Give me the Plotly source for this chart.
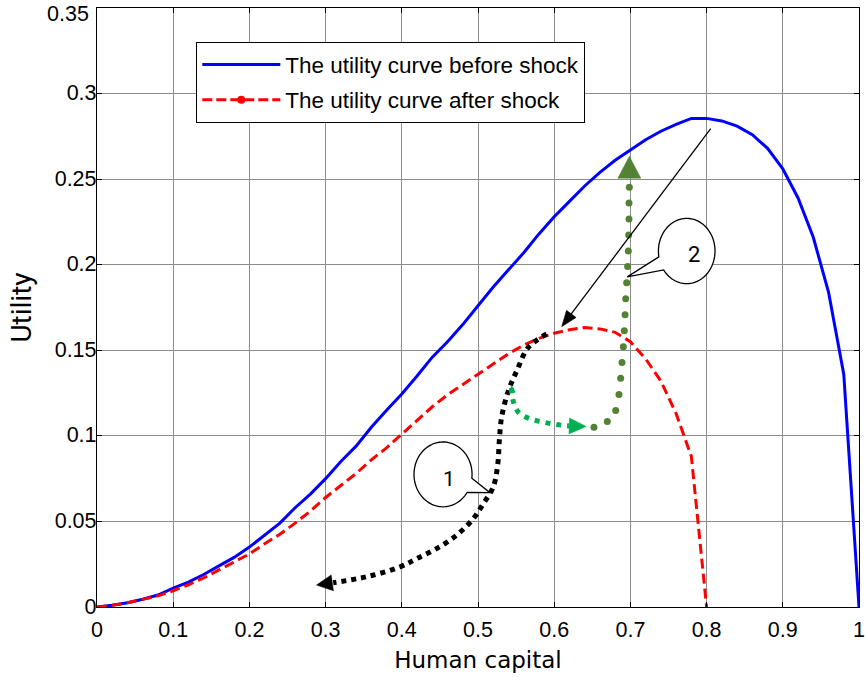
import numpy as np
import plotly.graph_objects as go

# ---- data -------------------------------------------------------------
capital_before = [0.00, 0.02, 0.04, 0.06, 0.08, 0.10, 0.12, 0.14, 0.16, 0.18,
                  0.20, 0.22, 0.24, 0.26, 0.28, 0.30, 0.32, 0.34, 0.36, 0.38,
                  0.40, 0.42, 0.44, 0.46, 0.48, 0.50, 0.52, 0.54, 0.56, 0.58,
                  0.60, 0.62, 0.64, 0.66, 0.68, 0.70, 0.72, 0.74, 0.76, 0.78,
                  0.80, 0.82, 0.84, 0.86, 0.88, 0.90, 0.92, 0.94, 0.96, 0.98,
                  1.00]
utility_before = [0.0, 0.001, 0.0025, 0.0045, 0.007, 0.011, 0.0145, 0.019, 0.024, 0.029,
                  0.035, 0.042, 0.049, 0.058, 0.066, 0.075, 0.085, 0.094, 0.105, 0.115,
                  0.1245, 0.135, 0.146, 0.155, 0.165, 0.176, 0.187, 0.197, 0.207, 0.218,
                  0.228, 0.237, 0.246, 0.254, 0.261, 0.267, 0.273, 0.278, 0.282, 0.2855,
                  0.2855, 0.284, 0.281, 0.276, 0.268, 0.256, 0.239, 0.216, 0.184, 0.136,
                  0.0]

capital_after = [0.00, 0.02, 0.04, 0.06, 0.08, 0.10, 0.12, 0.14, 0.16, 0.18,
                 0.20, 0.22, 0.24, 0.26, 0.28, 0.30, 0.32, 0.34, 0.36, 0.38,
                 0.40, 0.42, 0.44, 0.46, 0.48, 0.50, 0.52, 0.54, 0.56, 0.58,
                 0.60, 0.62, 0.64, 0.66, 0.68, 0.70, 0.72, 0.74, 0.76, 0.78,
                 0.80]
utility_after = [0.0, 0.001, 0.0025, 0.0045, 0.0065, 0.0095, 0.013, 0.017, 0.0215, 0.026,
                 0.031, 0.037, 0.0425, 0.049, 0.056, 0.064, 0.071, 0.078, 0.086, 0.093,
                 0.101, 0.109, 0.117, 0.124, 0.130, 0.136, 0.142, 0.148, 0.153, 0.157,
                 0.160, 0.162, 0.1633, 0.1625, 0.1605, 0.155, 0.145, 0.132, 0.113, 0.088,
                 0.0]

# path 1: falling back down after the shock (black dotted)
fall_x = [0.590, 0.566, 0.551, 0.540, 0.531, 0.528, 0.526, 0.520, 0.507, 0.494,
          0.472, 0.446, 0.420, 0.398, 0.354, 0.310]
fall_y = [0.1595, 0.1517, 0.1381, 0.1265, 0.1109, 0.0973, 0.0837, 0.0701, 0.0604, 0.0517,
          0.0420, 0.0342, 0.0284, 0.0235, 0.0177, 0.0142]
fall_tip = (0.288, 0.0128)

# path 2: recovery, first leg (green squares)
recover_x = [0.544, 0.546, 0.553, 0.568, 0.586, 0.603, 0.620]
recover_y = [0.1280, 0.1206, 0.1138, 0.1100, 0.1080, 0.1066, 0.1058]
recover_tip = (0.642, 0.1055)

# path 2: recovery, second leg (olive dots)
climb_x = [0.6522, 0.6697, 0.6807, 0.6850, 0.6872, 0.6890, 0.6907, 0.6920, 0.6930,
           0.6938, 0.6951, 0.6964, 0.6973, 0.6977, 0.6982, 0.6982, 0.6986]
climb_y = [0.1051, 0.1084, 0.1148, 0.1241, 0.1336, 0.1428, 0.1521, 0.1614, 0.1707,
           0.1801, 0.1894, 0.1989, 0.2080, 0.2174, 0.2267, 0.2360, 0.2453]
climb_tip = (0.6986, 0.2634)

# pointer from the old optimum to the new one
pointer_start = (0.8054, 0.2795)
pointer_tip = (0.6098, 0.1638)

x_ticks = [0, 0.1, 0.2, 0.3, 0.4, 0.5, 0.6, 0.7, 0.8, 0.9, 1]
x_labels = ["0", "0.1", "0.2", "0.3", "0.4", "0.5", "0.6", "0.7", "0.8", "0.9", "1"]
y_ticks = [0, 0.05, 0.1, 0.15, 0.2, 0.25, 0.3, 0.35]
y_labels = ["0", "0.05", "0.1", "0.15", "0.2", "0.25", "0.3", "0.35"]

# ---- geometry helpers -------------------------------------------------
W, H = 865, 677
M_L, M_R, M_T, M_B = 97, 6, 8, 70
PX_X = (W - M_L - M_R) / 1.0
PX_Y = (H - M_T - M_B) / 0.35

TICK_FONT = "Liberation Sans, Arial, sans-serif"
TICK_SIZE = 21.5
BLACK = "#000000"
GREEN = "#00B050"
OLIVE = "#548235"


def screen_angle(p_from, p_to):
    return np.degrees(np.arctan2((p_to[1] - p_from[1]) * PX_Y,
                                 (p_to[0] - p_from[0]) * PX_X))


def arrow_head(tip, angle_deg, length, width, color):
    a = np.radians(angle_deg)
    ux, uy = np.cos(a), np.sin(a)
    nx, ny = -uy, ux
    bx, by = -ux * length, -uy * length
    p1 = (bx + nx * width / 2, by + ny * width / 2)
    p2 = (bx - nx * width / 2, by - ny * width / 2)
    path = f"M0,0 L{p1[0]:.2f},{p1[1]:.2f} L{p2[0]:.2f},{p2[1]:.2f} Z"
    return dict(type="path", xref="x", yref="y", xsizemode="pixel", ysizemode="pixel",
                xanchor=tip[0], yanchor=tip[1], path=path, fillcolor=color,
                line=dict(color=color, width=0.5), layer="above")


def bubble(cx, cy, rx, ry, gap_from, gap_to, tip):
    # ellipse outline (angles measured clockwise on screen) with a tail
    ang = np.radians(np.linspace(gap_from, gap_to, 90))
    xs = cx + rx * np.cos(ang)
    ys = cy - ry * np.sin(ang)
    pts = [f"{x:.5f},{y:.5f}" for x, y in zip(xs, ys)]
    path = "M" + " L".join(pts) + f" L{tip[0]:.5f},{tip[1]:.5f} Z"
    return dict(type="path", xref="x", yref="y", path=path, fillcolor="white",
                line=dict(color=BLACK, width=1.3), layer="above")


# ---- figure -----------------------------------------------------------
fig = go.Figure()

fig.add_trace(go.Scatter(x=capital_before, y=utility_before, mode="lines",
                         name="The utility curve before shock", legendgroup="before",
                         line=dict(color="#0000FF", width=3)))
fig.add_trace(go.Scatter(x=capital_after, y=utility_after, mode="lines",
                         showlegend=False, legendgroup="after",
                         line=dict(color="#FF0000", width=3, dash="10px,5px")))
fig.add_trace(go.Scatter(x=[None], y=[None], mode="lines+markers",
                         name="The utility curve after shock", legendgroup="after",
                         line=dict(color="#FF0000", width=3, dash="10px,4px"),
                         marker=dict(color="#FF0000", size=8)))

fig.add_trace(go.Scatter(x=fall_x, y=fall_y, mode="lines", showlegend=False,
                         line=dict(color=BLACK, width=5, dash="5px,5px", shape="spline")))
fig.add_trace(go.Scatter(x=recover_x, y=recover_y, mode="lines", showlegend=False,
                         line=dict(color=GREEN, width=5, dash="5px,6px", shape="spline")))
fig.add_trace(go.Scatter(x=climb_x, y=climb_y, mode="markers", showlegend=False,
                         marker=dict(color=OLIVE, size=7)))

shapes = [
    arrow_head(fall_tip, screen_angle((fall_x[-1], fall_y[-1]), fall_tip), 16, 16, BLACK),
    arrow_head(recover_tip, screen_angle((recover_x[-1], recover_y[-1]), recover_tip), 17, 16, GREEN),
    arrow_head((recover_x[0], recover_y[0] + 0.0014),
               screen_angle((recover_x[1], recover_y[1]), (recover_x[0], recover_y[0])), 7, 6, GREEN),
    arrow_head(climb_tip, screen_angle((climb_x[-1], climb_y[-1]), climb_tip), 22, 23, OLIVE),
]

# thin pointer line and its head
p_ang = screen_angle(pointer_start, pointer_tip)
head_len = 16
end_x = pointer_tip[0] - np.cos(np.radians(p_ang)) * head_len * 0.8 / PX_X
end_y = pointer_tip[1] - np.sin(np.radians(p_ang)) * head_len * 0.8 / PX_Y
shapes.append(dict(type="line", xref="x", yref="y", x0=pointer_start[0], y0=pointer_start[1],
                   x1=end_x, y1=end_y, line=dict(color=BLACK, width=1.3), layer="above"))
shapes.append(arrow_head(pointer_tip, p_ang, head_len, 12, BLACK))

# callout bubbles "1" and "2"
shapes.append(bubble(0.4541, 0.0775, 0.0381, 0.01894, 34, 367, (0.5157, 0.0668)))
shapes.append(bubble(0.7739, 0.2080, 0.03714, 0.01906, 169.7, 504.5, (0.6959, 0.1929)))

annotations = [
    dict(x=0.4623, y=0.0750, xref="x", yref="y", text="1", showarrow=False,
         font=dict(family="Roboto, sans-serif", size=21, color=BLACK)),
    dict(x=0.7835, y=0.2061, xref="x", yref="y", text="2", showarrow=False,
         font=dict(family="Roboto, sans-serif", size=22, color=BLACK)),
    # top y label, kept just inside the page edge
    dict(x=0, y=1, xref="paper", yref="paper", text=y_labels[-1], showarrow=False,
         xanchor="right", yanchor="top", xshift=-6, yshift=M_T,
         font=dict(family=TICK_FONT, size=TICK_SIZE, color=BLACK)),
]

axis_common = dict(
    showline=True, linecolor=BLACK, linewidth=1.3, mirror="ticks",
    ticks="inside", ticklen=5, tickcolor=BLACK, tickwidth=1,
    showgrid=True, gridcolor="#8c8c8c", gridwidth=1, zeroline=False,
    automargin=False,
    tickfont=dict(family=TICK_FONT, size=TICK_SIZE, color=BLACK),
)

fig.update_layout(
    width=W, height=H, autosize=False,
    margin=dict(l=M_L, r=M_R, t=M_T, b=M_B),
    paper_bgcolor="white", plot_bgcolor="white",
    xaxis=dict(range=[0, 1.0000001], tickvals=x_ticks, ticktext=x_labels,
               ticklabelstandoff=3,
               title=dict(text="Human capital", standoff=10,
                          font=dict(family="DejaVu Sans, sans-serif", size=23, color=BLACK)),
               **axis_common),
    yaxis=dict(range=[0, 0.3500001], tickvals=y_ticks,
               ticktext=y_labels[:-1] + [""],
               ticklabelstandoff=-5, ticklabelshift=-1,
               title=dict(text="Utility", standoff=14,
                          font=dict(family="Roboto, sans-serif", size=28, color=BLACK)),
               **axis_common),
    legend=dict(x=(196 - M_L) / PX_X, y=(H - M_B - 42) / (H - M_T - M_B),
                xanchor="left", yanchor="top",
                bgcolor="white", bordercolor=BLACK, borderwidth=1.3,
                itemwidth=78, traceorder="grouped", tracegroupgap=3,
                font=dict(family=TICK_FONT, size=22.5, color=BLACK)),
    shapes=shapes,
    annotations=annotations,
)

fig.write_html("out.html")
